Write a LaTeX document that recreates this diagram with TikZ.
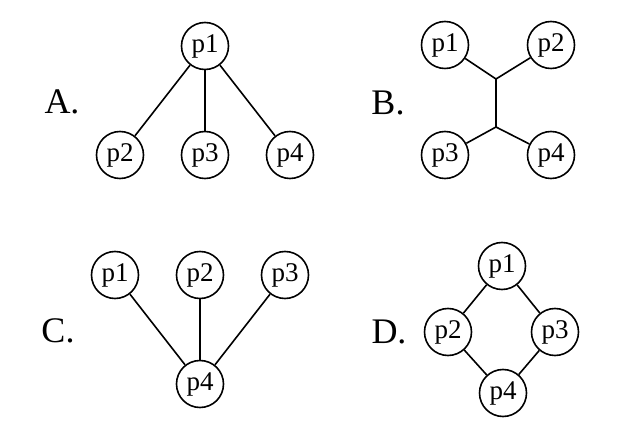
\documentclass[tikz,border=0pt]{standalone}
\usepackage{fontspec}
\setmainfont{Liberation Serif}
\begin{document}
\begin{tikzpicture}[x=1pt,y=-1pt,
  pnode/.style={draw,circle,line width=1.6pt,minimum size=47pt,inner sep=0pt,font=\fontsize{27}{30}\selectfont},
  lbl/.style={font=\fontsize{36}{40}\selectfont,inner sep=0pt},
  edge/.style={line width=1.6pt}]
\useasboundingbox[fill=white] (0,0) rectangle (632,427);
% A
\node[lbl] (la) at (62,102) {A.};
\node[pnode] (a1) at (205,46) {p1};
\node[pnode] (a2) at (120,155) {p2};
\node[pnode] (a3) at (205,155) {p3};
\node[pnode] (a4) at (290,155) {p4};
\draw[edge] (a1) -- (a2);
\draw[edge] (a1) -- (a3);
\draw[edge] (a1) -- (a4);
% B
\node[lbl] (lb) at (388,103) {B.};
\node[pnode] (b1) at (445,45) {p1};
\node[pnode] (b2) at (551,45) {p2};
\node[pnode] (b3) at (445,155) {p3};
\node[pnode] (b4) at (551,155) {p4};
\coordinate (bu) at (496,79);
\coordinate (bd) at (496,127);
\draw[edge] (b1) -- (bu) -- (b2);
\draw[edge] (bu) -- (bd);
\draw[edge] (b3) -- (bd) -- (b4);
% C
\node[lbl] (lc) at (58,331) {C.};
\node[pnode] (c1) at (115,275) {p1};
\node[pnode] (c2) at (200,275) {p2};
\node[pnode] (c3) at (285,275) {p3};
\node[pnode] (c4) at (200,384) {p4};
\draw[edge] (c4) -- (c1);
\draw[edge] (c4) -- (c2);
\draw[edge] (c4) -- (c3);
% D
\node[lbl] (ld) at (389,332) {D.};
\node[pnode] (d1) at (502,266) {p1};
\node[pnode] (d2) at (448,332) {p2};
\node[pnode] (d3) at (555,332) {p3};
\node[pnode] (d4) at (503,393) {p4};
\draw[edge] (d1) -- (d2) -- (d4) -- (d3) -- (d1);
\end{tikzpicture}
\end{document}
